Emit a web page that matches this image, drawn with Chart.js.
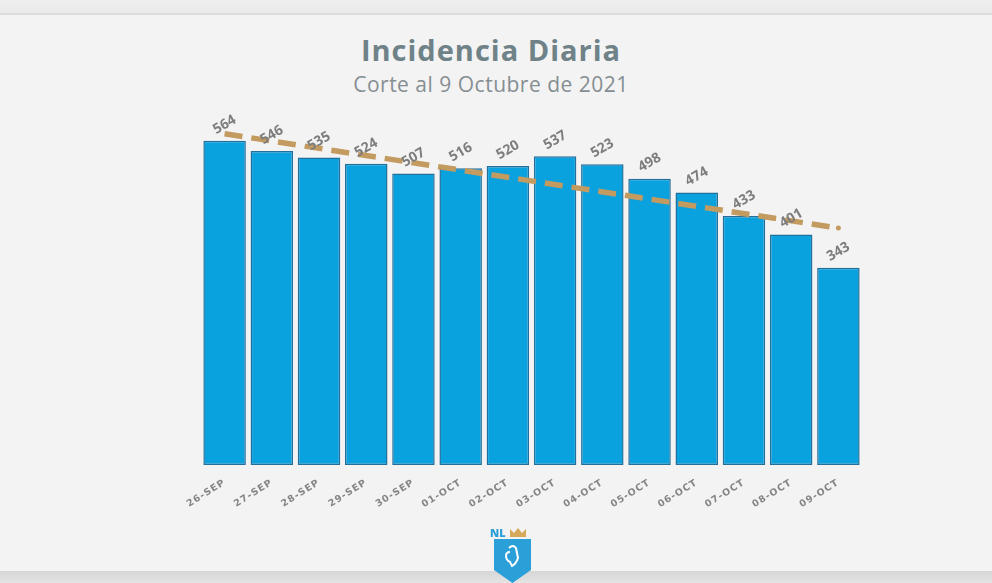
<!DOCTYPE html>
<html>
<head>
<meta charset="utf-8">
<script src="https://cdn.jsdelivr.net/npm/chart.js@4.4.0/dist/chart.umd.min.js"></script>
<style>
  html, body { margin:0; padding:0; width:992px; height:583px; overflow:hidden; background:#f3f3f3; }
  #wrap { position:relative; width:992px; height:583px; }
  #topbar { position:absolute; left:0; top:0; width:992px; height:13px; background:linear-gradient(#efefef,#e9e9e9); border-bottom:2px solid #dcdcdc; }
  #botbar { position:absolute; left:0; top:571px; width:992px; height:12px; background:linear-gradient(#d6d6d6,#e4e4e4); }
  #title { position:absolute; left:-5px; width:992px; top:30px; text-align:center; font-family:"Open Sans", sans-serif; font-weight:700; font-size:29px; letter-spacing:1px; color:#6f8288; }
  #subtitle { position:absolute; left:-5px; width:992px; top:70px; text-align:center; font-family:"Open Sans", sans-serif; font-weight:400; font-size:21px; letter-spacing:0.5px; color:#858e92; }
  canvas { position:absolute; left:0; top:0; }
  #logo { position:absolute; left:486px; top:524px; width:48px; height:59px; }
</style>
</head>
<body>
<div id="wrap">
  <div id="topbar"></div>
  <div id="botbar"></div>
  <div id="title">Incidencia Diaria</div>
  <div id="subtitle">Corte al 9 Octubre de 2021</div>
  <canvas id="c" width="992" height="583"></canvas>
  <svg id="logo" viewBox="0 0 48 59" xmlns="http://www.w3.org/2000/svg">
    <text x="4" y="13" font-family="Open Sans, sans-serif" font-weight="800" font-size="11" fill="#2a9fd8">NL</text>
    <path d="M24 13 L24 5 L28 9 L32 4 L36 9 L40 5 L40 13 Z" fill="#d6a85a"/>
    <path d="M8 15 L45 15 L45 46 L26.5 59 L8 46 Z" fill="#2a9fd8"/>
    <path d="M23 24 q4 -4 7 0 l2 10 q-2 6 -6 8 l-2 -4 q-4 -2 -4 -6 q0 -4 4 -4" fill="none" stroke="#ffffff" stroke-width="2"/>
  </svg>
</div>
<script>
const categories = ["26-SEP","27-SEP","28-SEP","29-SEP","30-SEP","01-OCT","02-OCT","03-OCT","04-OCT","05-OCT","06-OCT","07-OCT","08-OCT","09-OCT"];
const casos = [564,546,535,524,507,516,520,537,523,498,474,433,401,343];
// trend line endpoints (first and last category)
const tendencia = [576,null,null,null,null,null,null,null,null,null,null,null,null,412];
const yTicks = { min: 0, max: 600 };

const spacing = {
  id: 'spacing',
  beforeLayout(chart) { chart.ctx.letterSpacing = '1px'; },
  beforeDraw(chart) { chart.ctx.letterSpacing = '1px'; }
};

const valueLabels = {
  id: 'valueLabels',
  afterDatasetsDraw(chart) {
    const ctx = chart.ctx;
    const meta = chart.getDatasetMeta(0);
    ctx.save();
    ctx.letterSpacing = '0px';
    ctx.font = 'bold 14px "Open Sans", sans-serif';
    ctx.fillStyle = '#7d7d7d';
    ctx.textAlign = 'center';
    ctx.textBaseline = 'middle';
    meta.data.forEach((bar, i) => {
      ctx.save();
      ctx.translate(bar.x, bar.y - 16);
      ctx.rotate(-30 * Math.PI / 180);
      ctx.fillText(String(casos[i]), 0, 0);
      ctx.restore();
    });
    ctx.restore();
  }
};

new Chart(document.getElementById('c'), {
  data: {
    labels: categories,
    datasets: [
      {
        type: 'bar',
        data: casos,
        backgroundColor: '#09a1de',
        borderColor: '#226f9c',
        borderWidth: 1.5,
        borderSkipped: false,
        categoryPercentage: 0.9,
        barPercentage: 1.0,
        order: 2
      },
      {
        type: 'line',
        data: tendencia,
        spanGaps: true,
        borderColor: '#c39a5f',
        borderWidth: 5.5,
        borderDash: [18, 9],
        pointRadius: [0,0,0,0,0,0,0,0,0,0,0,0,0,2.5],
        pointBackgroundColor: '#c39a5f',
        pointBorderWidth: 0,
        fill: false,
        order: 1
      }
    ]
  },
  options: {
    responsive: false,
    animation: false,
    layout: { padding: { left: 201, right: 130, top: 120, bottom: 0 } },
    plugins: { legend: { display: false }, tooltip: { enabled: false } },
    scales: {
      y: { display: false, min: yTicks.min, max: yTicks.max },
      x: {
        grid: { display: false, drawTicks: false },
        border: { display: false },
        ticks: {
          maxRotation: 32, minRotation: 32,
          padding: 12,
          color: '#858585',
          font: { family: '"DejaVu Sans", sans-serif', weight: 'bold', size: 9.5 }
        },
        afterFit(scale) { scale.height = 118; }
      }
    }
  },
  plugins: [spacing, valueLabels]
});
</script>
</body>
</html>
